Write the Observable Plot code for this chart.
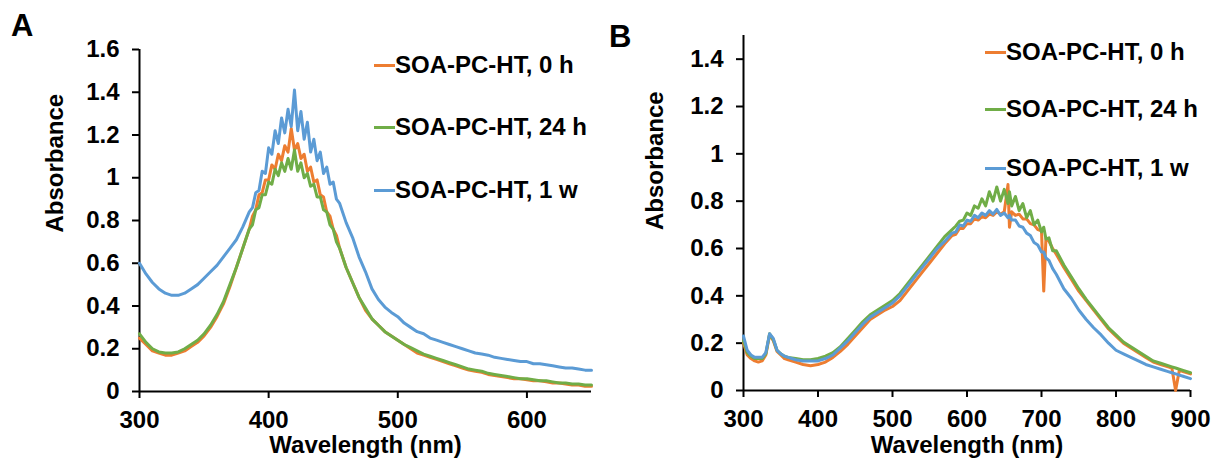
<!DOCTYPE html>
<html>
<head>
<meta charset="utf-8">
<script src="https://cdn.jsdelivr.net/npm/d3@7"></script>
<script src="https://cdn.jsdelivr.net/npm/@observablehq/plot@0.6"></script>
<style>
  html, body { margin: 0; padding: 0; background: #fff; }
  #wrap { position: relative; width: 1215px; height: 461px; overflow: hidden; background: #fff;
          font-family: "Liberation Sans", Arial, sans-serif; }
  .panel { position: absolute; top: 0; }
  .plabel { position: absolute; font-size: 31px; line-height: 1; font-weight: bold; color: #000; }
  .lg { position: absolute; height: 28px; line-height: 28px; display: flex; align-items: center;
        font-size: 24px; font-weight: bold; color: #000; white-space: nowrap; }
  .sw { display: inline-block; width: 21px; height: 3px; }
</style>
</head>
<body>
<div id="wrap">
  <div class="panel" id="pa" style="left:0px"></div>
  <div class="panel" id="pb" style="left:605px"></div>
  <div class="plabel" style="left:11px; top:10px">A</div>
  <div class="plabel" style="left:609px; top:21px">B</div>
  <div id="legA"></div>
  <div id="legB"></div>
</div>
<script>
// ---------- Data ----------
const seriesNames = ["SOA-PC-HT, 0 h", "SOA-PC-HT, 24 h", "SOA-PC-HT, 1 w"];
const seriesColors = ["#ED7D31", "#70AD47", "#5B9BD5"];

// Panel A
const waveA = [300,305,310,315,320,325,330,335,340,345,350,355,360,365,370,375,380,
  385,387.5,390,392.5,395,397.5,400,402.5,405,407.5,410,412.5,415,417.5,420,422.5,425,427.5,430,432.5,435,437.5,440,442.5,445,447.5,450,452.5,455,
  460,465,470,475,480,485,490,495,500,505,510,515,520,525,530,535,540,545,550,555,560,565,570,575,580,585,590,595,
  600,605,610,615,620,625,630,635,640,645,650];
const a0h = [0.25,0.22,0.19,0.18,0.17,0.17,0.18,0.19,0.21,0.23,0.26,0.30,0.35,0.41,0.49,0.58,0.67,
  0.76,0.82,0.85,0.92,0.93,0.99,0.99,1.06,1.04,1.11,1.08,1.15,1.12,1.23,1.13,1.16,1.09,1.11,1.03,1.05,0.98,0.99,0.92,0.91,0.84,0.82,0.76,0.73,0.67,
  0.58,0.51,0.44,0.38,0.34,0.31,0.28,0.26,0.24,0.22,0.20,0.18,0.17,0.16,0.15,0.14,0.13,0.12,0.11,0.10,0.095,0.09,0.08,0.075,0.07,0.065,0.06,0.06,
  0.055,0.05,0.05,0.045,0.04,0.04,0.035,0.03,0.03,0.025,0.025];
const a24h = [0.27,0.23,0.20,0.185,0.18,0.18,0.185,0.20,0.22,0.24,0.27,0.31,0.36,0.42,0.50,0.58,0.67,
  0.76,0.78,0.85,0.86,0.92,0.92,0.98,0.97,1.04,1.01,1.07,1.03,1.09,1.04,1.13,1.03,1.07,1.00,1.02,0.96,0.97,0.91,0.91,0.85,0.84,0.78,0.76,0.70,0.67,
  0.58,0.51,0.44,0.39,0.34,0.31,0.28,0.26,0.24,0.22,0.205,0.19,0.175,0.165,0.155,0.145,0.135,0.125,0.115,0.105,0.10,0.095,0.085,0.08,0.075,0.07,0.065,0.06,
  0.06,0.055,0.05,0.05,0.045,0.04,0.04,0.035,0.035,0.03,0.03];
const a1w = [0.60,0.55,0.51,0.48,0.46,0.45,0.45,0.46,0.48,0.50,0.53,0.56,0.59,0.63,0.67,0.71,0.77,
  0.84,0.86,0.93,0.94,1.03,1.02,1.14,1.11,1.22,1.16,1.28,1.21,1.32,1.24,1.41,1.22,1.31,1.18,1.26,1.12,1.18,1.08,1.12,1.02,1.05,0.97,0.98,0.90,0.88,
  0.79,0.72,0.63,0.56,0.48,0.43,0.395,0.37,0.35,0.32,0.30,0.28,0.27,0.25,0.24,0.23,0.22,0.21,0.20,0.19,0.18,0.175,0.17,0.16,0.155,0.15,0.145,0.14,
  0.14,0.13,0.13,0.125,0.12,0.115,0.11,0.11,0.105,0.10,0.10];

// Panel B
const waveB = [300,305,310,315,320,325,330,335,340,345,350,355,360,
  370,380,390,400,410,420,430,440,450,460,470,480,490,500,510,520,530,540,550,560,570,
  580,585,590,595,600,605,610,615,620,625,630,635,640,645,650,655,657,660,665,670,675,680,685,690,695,700,703,706,710,715,720,
  730,740,750,760,770,780,790,800,810,820,830,840,850,860,870,875,880,885,890,900];
const b0h = [0.20,0.15,0.135,0.125,0.12,0.125,0.15,0.235,0.21,0.165,0.15,0.135,0.13,
  0.12,0.11,0.105,0.11,0.12,0.14,0.165,0.195,0.23,0.265,0.30,0.32,0.34,0.355,0.38,0.42,0.46,0.50,0.54,0.58,0.62,
  0.655,0.66,0.685,0.685,0.705,0.705,0.725,0.72,0.735,0.73,0.745,0.74,0.755,0.745,0.755,0.87,0.69,0.755,0.74,0.745,0.725,0.725,0.705,0.70,0.68,0.675,0.42,0.645,0.63,0.60,0.575,
  0.52,0.47,0.42,0.38,0.34,0.30,0.26,0.23,0.20,0.18,0.16,0.14,0.12,0.11,0.10,0.095,0.0,0.085,0.08,0.07];
const b24h = [0.21,0.16,0.145,0.135,0.135,0.135,0.155,0.24,0.215,0.17,0.155,0.145,0.14,
  0.135,0.13,0.13,0.135,0.145,0.16,0.185,0.22,0.255,0.29,0.32,0.34,0.36,0.38,0.41,0.45,0.49,0.53,0.57,0.61,0.65,
  0.68,0.695,0.715,0.72,0.75,0.74,0.78,0.77,0.81,0.78,0.84,0.80,0.86,0.80,0.85,0.79,0.84,0.78,0.82,0.76,0.79,0.73,0.76,0.70,0.72,0.67,0.69,0.64,0.645,0.59,0.59,
  0.53,0.48,0.43,0.385,0.345,0.305,0.265,0.235,0.205,0.185,0.165,0.145,0.125,0.115,0.105,0.10,0.095,0.09,0.085,0.075];
const b1w = [0.23,0.17,0.15,0.14,0.14,0.14,0.16,0.24,0.22,0.17,0.155,0.145,0.14,
  0.13,0.125,0.125,0.125,0.135,0.15,0.18,0.21,0.245,0.28,0.31,0.33,0.35,0.37,0.40,0.44,0.48,0.52,0.56,0.60,0.63,
  0.665,0.67,0.70,0.695,0.72,0.715,0.74,0.73,0.75,0.74,0.76,0.745,0.765,0.74,0.75,0.73,0.74,0.72,0.72,0.695,0.69,0.665,0.655,0.625,0.615,0.585,0.585,0.56,0.55,0.515,0.49,
  0.43,0.39,0.34,0.30,0.265,0.235,0.20,0.17,0.155,0.14,0.125,0.11,0.10,0.09,0.08,0.075,0.07,0.065,0.06,0.05];

// Ticks
const xTicksA = [300,400,500,600];
const yTicksA = [0,0.2,0.4,0.6,0.8,1.0,1.2,1.4,1.6];
const yLabelsA = ["0","0.2","0.4","0.6","0.8","1","1.2","1.4","1.6"];
const xTicksB = [300,400,500,600,700,800,900];
const yTicksB = [0,0.2,0.4,0.6,0.8,1.0,1.2,1.4];
const yLabelsB = ["0","0.2","0.4","0.6","0.8","1","1.2","1.4"];
const xTitle = "Wavelength (nm)";
const yTitle = "Absorbance";

// ---------- Drawing ----------
const FONT = "'Liberation Sans', Arial, sans-serif";
function panel({wave, series, xDomain, yDomain, xTicks, yTicks, yLabels, width, mL, mR, mT, mB, yTitleDx, yTitleDy, xTitleDy}) {
  const lines = series.map((vals, k) =>
    Plot.line(wave.map((w, i) => [w, vals[i]]), {stroke: seriesColors[k], strokeWidth: 3, strokeLinejoin: "round"})
  );
  return Plot.plot({
    width, height: 461,
    marginLeft: mL, marginRight: mR, marginTop: mT, marginBottom: mB,
    x: {domain: xDomain},
    y: {domain: yDomain},
    style: {background: "transparent", fontFamily: FONT, fontSize: "24px", fontWeight: "bold", color: "#000"},
    marks: [
      Plot.ruleX([xDomain[0]], {stroke: "#000", strokeWidth: 2}),
      Plot.ruleY([0], {stroke: "#000", strokeWidth: 2}),
      Plot.axisX({ticks: xTicks, tickSize: 7, tickPadding: 12, strokeWidth: 2, label: null,
                  tickFormat: d => String(d), fontSize: 24, fontWeight: "bold"}),
      Plot.axisY({ticks: yTicks, tickSize: 7, tickPadding: 13, strokeWidth: 2, label: null,
                  tickFormat: d => yLabels[yTicks.findIndex(t => Math.abs(t - d) < 1e-9)], fontSize: 24, fontWeight: "bold"}),
      ...lines,
      Plot.text([xTitle], {frameAnchor: "bottom", dy: xTitleDy, fontSize: 24, fontWeight: "bold", lineAnchor: "middle", fill: "#000"}),
      Plot.text([yTitle], {frameAnchor: "left", rotate: -90, dx: yTitleDx, dy: yTitleDy, fontSize: 24, fontWeight: "bold", lineAnchor: "middle", fill: "#000"})
    ]
  });
}

document.getElementById("pa").append(panel({
  wave: waveA, series: [a0h, a24h, a1w], xDomain: [300, 650], yDomain: [0, 1.6],
  xTicks: xTicksA, yTicks: yTicksA, yLabels: yLabelsA,
  width: 605, mL: 139, mR: 14, mT: 49, mB: 70, yTitleDx: -84, yTitleDy: 12, xTitleDy: 54
}));
document.getElementById("pb").append(panel({
  wave: waveB, series: [b0h, b24h, b1w], xDomain: [300, 900], yDomain: [0, 1.5],
  xTicks: xTicksB, yTicks: yTicksB, yLabels: yLabelsB,
  width: 610, mL: 138, mR: 25, mT: 35, mB: 71, yTitleDx: -88, yTitleDy: 17, xTitleDy: 55
}));

// Legends
function legend(id, left, centers) {
  const el = document.getElementById(id);
  seriesNames.forEach((name, k) => {
    const d = document.createElement("div");
    d.className = "lg";
    d.style.left = left + "px";
    d.style.top = (centers[k] - 14) + "px";
    const sw = document.createElement("span");
    sw.className = "sw";
    sw.style.background = seriesColors[k];
    const t = document.createElement("span");
    t.textContent = name;
    d.append(sw, t);
    el.append(d);
  });
}
legend("legA", 374, [65, 127, 190]);
legend("legB", 985, [52, 109, 168]);
</script>
</body>
</html>
